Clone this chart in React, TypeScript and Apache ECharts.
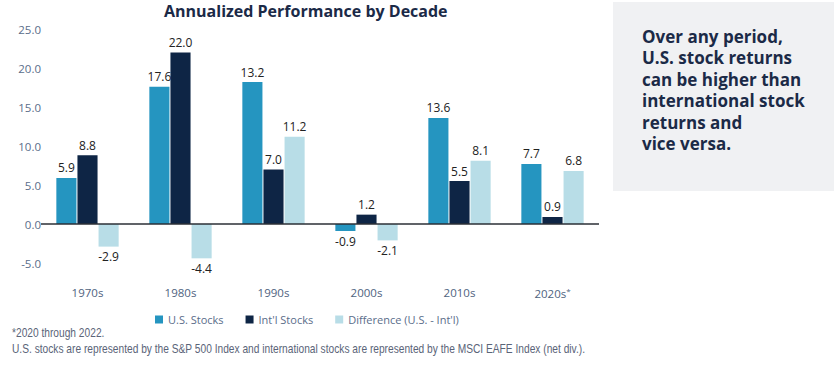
import React, { useEffect, useRef } from "react";
import * as echarts from "echarts";

const categories = ["1970s", "1980s", "1990s", "2000s", "2010s", "2020s*"];
const usStocks = [5.9, 17.6, 18.2, -0.9, 13.6, 7.7];
const usLabels = ["5.9", "17.6", "13.2", "-0.9", "13.6", "7.7"];
const intlStocks = [8.8, 22.0, 7.0, 1.2, 5.5, 0.9];
const difference = [-2.9, -4.4, 11.2, -2.1, 8.1, 6.8];
const seriesNames = ["U.S. Stocks", "Int'l Stocks", "Difference (U.S. - Int'l)"];
const colors = ["#2595c0", "#0e2545", "#b8dde7"];
const yTicks = { min: -5, max: 25, interval: 5 };
const title = "Annualized Performance by Decade";
const sideNote = [
  "Over any period,",
  "U.S. stock returns",
  "can be higher than",
  "international stock",
  "returns and",
  "vice versa.",
];
const footnotes = [
  "*2020 through 2022.",
  "U.S. stocks are represented by the S&P 500 Index and international stocks are represented by the MSCI EAFE Index (net div.).",
];

export default function App() {
  const ref = useRef<HTMLDivElement>(null);
  useEffect(() => {
    if (!ref.current) return;
    const chart = echarts.init(ref.current, null, { renderer: "svg" });
    const mk = (vals: number[], idx: number, labels?: string[]) => ({
      name: seriesNames[idx],
      type: "bar",
      barGap: "5%",
      barCategoryGap: "33%",
      itemStyle: { color: colors[idx] },
      data: vals.map((v) => ({
        value: v,
        label: { position: v < 0 ? "bottom" : "top" },
      })),
      label: {
        show: true,
        distance: 4,
        color: "#222",
        fontSize: 12,
        fontFamily: "Open Sans",
        formatter: (p: any) =>
          labels ? labels[p.dataIndex] : Number(p.value).toFixed(1),
      },
      ...(idx === 0
        ? {
            markLine: {
              silent: true,
              symbol: "none",
              label: { show: false },
              lineStyle: { color: "#2b2f36", width: 1.5, type: "solid" },
              data: [{ yAxis: 0 }],
            },
          }
        : {}),
    });
    chart.setOption({
      animation: false,
      textStyle: { fontFamily: "Open Sans" },
      title: {
        text: title,
        left: 164,
        top: 1,
        padding: 0,
        textStyle: {
          fontFamily: "Open Sans",
          fontWeight: "bold",
          fontSize: 16,
          lineHeight: 20,
          color: "#1b2a47",
        },
      },
      grid: { left: 41, right: 235, top: 29, bottom: 104 },
      xAxis: {
        type: "category",
        data: categories,
        axisLine: { show: false },
        axisTick: { show: false },
        axisLabel: {
          interval: 0,
          margin: 23,
          fontSize: 11.5,
          color: "#4f6380",
          formatter: (v: string) =>
            v.endsWith("*") ? v.slice(0, -1) + "{sup|*}" : v,
          rich: {
            sup: { fontSize: 8, color: "#4f6380", verticalAlign: "top", padding: [0, 0, 6, 0] },
          },
        },
      },
      yAxis: {
        type: "value",
        min: yTicks.min,
        max: yTicks.max,
        interval: yTicks.interval,
        splitLine: { show: false },
        axisLine: { show: false },
        axisTick: { show: false },
        axisLabel: {
          margin: 0,
          fontSize: 11.5,
          color: "#5a6d8a",
          formatter: (v: number) => v.toFixed(1),
        },
      },
      legend: {
        left: 150,
        top: 309,
        icon: "rect",
        itemWidth: 8,
        itemHeight: 8,
        itemGap: 22,
        itemStyle: { borderWidth: 0 },
        textStyle: { fontSize: 11, color: "#5a6d8a" },
        data: seriesNames,
      },
      graphic: [
        {
          type: "rect",
          shape: { x: 613, y: 2, width: 221, height: 189 },
          style: { fill: "#f0f1f3" },
          silent: true,
        },
        {
          type: "text",
          x: 642,
          y: 25.2,
          style: {
            text: sideNote.join("\n"),
            fill: "#1b2a47",
            font: "bold 17px 'Open Sans'",
            lineHeight: 21.6,
            textVerticalAlign: "top",
          },
        },
        ...footnotes.map((t, i) => ({
          type: "text",
          x: 12,
          y: 332 + i * 16,
          scaleX: 0.785,
          style: {
            text: t,
            fill: "#5a6478",
            font: "13px 'Liberation Sans'",
            textVerticalAlign: "middle",
          },
        })),
      ],
      series: [
        mk(usStocks, 0, usLabels),
        mk(intlStocks, 1),
        mk(difference, 2),
      ],
    });
    return () => chart.dispose();
  }, []);
  return (
    <div
      ref={ref}
      style={{ position: "fixed", left: 0, top: 0, width: 834, height: 367, background: "#fff" }}
    />
  );
}
